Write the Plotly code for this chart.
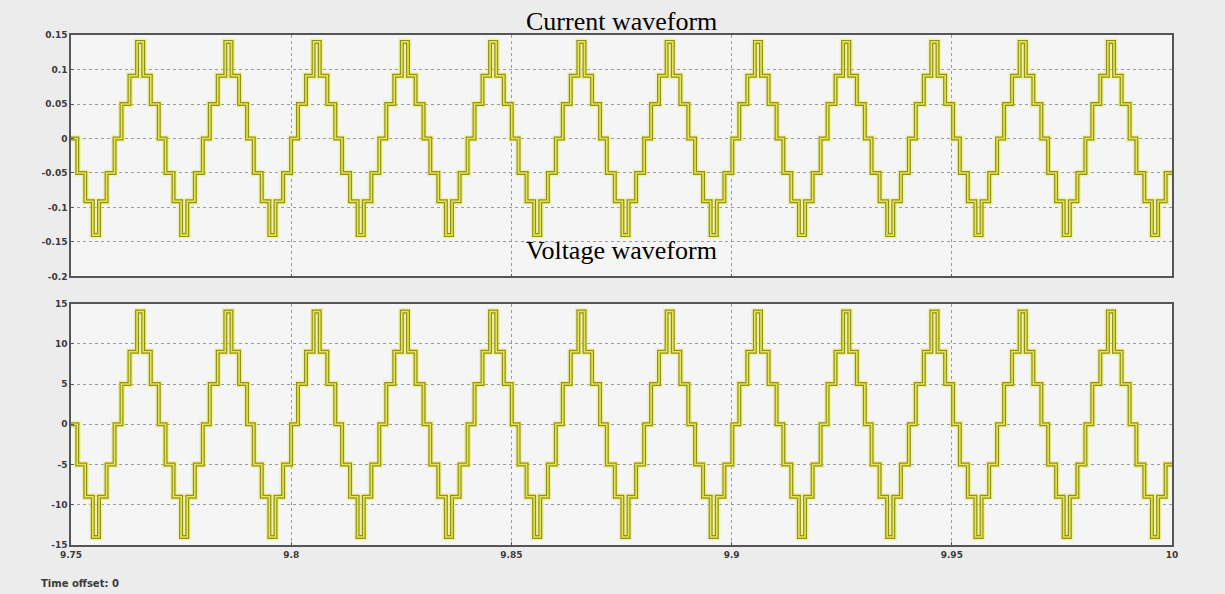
import plotly.graph_objects as go
from plotly.subplots import make_subplots

# ---- data ----
period_s = 0.02004                   # measured peak spacing (~50 Hz)
first_up_crossing = 9.7607           # time of an upward zero crossing
edge_offsets_ms = [0.77, 2.58, 4.30, 5.70, 7.42, 9.23, 10.77, 12.58, 14.30, 15.70, 17.42, 19.23]
step_after_edge = [1, 2, 3, 2, 1, 0, -1, -2, -3, -2, -1, 0]
current_levels = [0.0, 0.05, 0.091, 0.14]   # A, for step index 0..3
voltage_levels = [0.0, 5.0, 9.0, 14.0]      # V, for step index 0..3
x_start, x_end = 9.75, 10.0
x_tick_vals = [9.75, 9.8, 9.85, 9.9, 9.95, 10.0]
x_tick_text = ["9.75", "9.8", "9.85", "9.9", "9.95", "10"]
cur_tick_vals = [0.15, 0.1, 0.05, 0, -0.05, -0.1, -0.15, -0.2]
cur_tick_text = ["0.15", "0.1", "0.05", "0", "-0.05", "-0.1", "-0.15", "-0.2"]
volt_tick_vals = [15, 10, 5, 0, -5, -10, -15]
volt_tick_text = ["15", "10", "5", "0", "-5", "-10", "-15"]


def staircase(levels):
    xs, ys = [x_start], [None]
    edges = []
    for k in range(-1, 14):
        base = first_up_crossing + k * period_s
        for off, idx in zip(edge_offsets_ms, step_after_edge):
            t = base + off / 1000.0
            val = levels[abs(idx)] * (1 if idx >= 0 else -1)
            edges.append((t, val))
    prev = 0.0
    for t, v in edges:
        if t <= x_start:
            prev = v
    ys[0] = prev
    for t, v in edges:
        if x_start < t < x_end:
            xs.append(t)
            ys.append(v)
    xs.append(x_end)
    ys.append(ys[-1])
    return xs, ys


fig = make_subplots(rows=2, cols=1, shared_xaxes=False, vertical_spacing=0.053)

for row, levels in ((1, current_levels), (2, voltage_levels)):
    xs, ys = staircase(levels)
    fig.add_trace(go.Scatter(x=xs, y=ys, mode="lines", line_shape="hv",
                             line=dict(color="rgba(232,232,90,0.45)", width=7),
                             hoverinfo="skip", showlegend=False), row=row, col=1)
    fig.add_trace(go.Scatter(x=xs, y=ys, mode="lines", line_shape="hv",
                             line=dict(color="#929214", width=4),
                             showlegend=False), row=row, col=1)
    fig.add_trace(go.Scatter(x=xs, y=ys, mode="lines", line_shape="hv",
                             line=dict(color="#e4e455", width=1.6),
                             hoverinfo="skip", showlegend=False), row=row, col=1)

axis_common = dict(showline=True, linecolor="#555555", linewidth=1.5, mirror=True,
                   showgrid=True, gridcolor="#9a9a9a", griddash="dot", gridwidth=1,
                   zeroline=False, ticks="inside", ticklen=3, tickcolor="#555555",
                   tickfont=dict(family="DejaVu Sans", size=9, color="#3a3a3a", weight="bold"))

fig.update_xaxes(range=[x_start, x_end], tickvals=x_tick_vals, ticktext=x_tick_text, **axis_common)
fig.update_xaxes(showticklabels=False, row=1, col=1)
fig.update_yaxes(range=[-0.2, 0.15], tickvals=cur_tick_vals, ticktext=cur_tick_text,
                 row=1, col=1, **axis_common)
fig.update_yaxes(range=[-15, 15], tickvals=volt_tick_vals, ticktext=volt_tick_text,
                 row=2, col=1, **axis_common)

fig.update_layout(
    width=1225, height=594,
    margin=dict(l=71, r=53, t=35, b=49),
    paper_bgcolor="#ececec", plot_bgcolor="#f5f5f5",
    showlegend=False,
    annotations=[
        dict(text="Current waveform", xref="paper", yref="paper", x=0.5, y=1.0,
             xanchor="center", yanchor="bottom", yshift=-3, showarrow=False,
             font=dict(family="Liberation Serif", size=26, color="#000000")),
        dict(text="Voltage waveform", xref="paper", yref="paper", x=0.5, y=0.5265,
             xanchor="center", yanchor="bottom", yshift=9, showarrow=False,
             font=dict(family="Liberation Serif", size=26, color="#000000")),
        dict(text="Time offset: 0", xref="paper", yref="paper", x=0, y=0,
             xanchor="left", yanchor="top", yshift=-31, xshift=-32, showarrow=False,
             font=dict(family="DejaVu Sans", size=10, color="#3a3a3a", weight="bold")),
    ],
)

fig.write_html("out.html", config={"displayModeBar": False},
               post_script="document.body.style.margin='0';document.body.style.background='#ececec';")
